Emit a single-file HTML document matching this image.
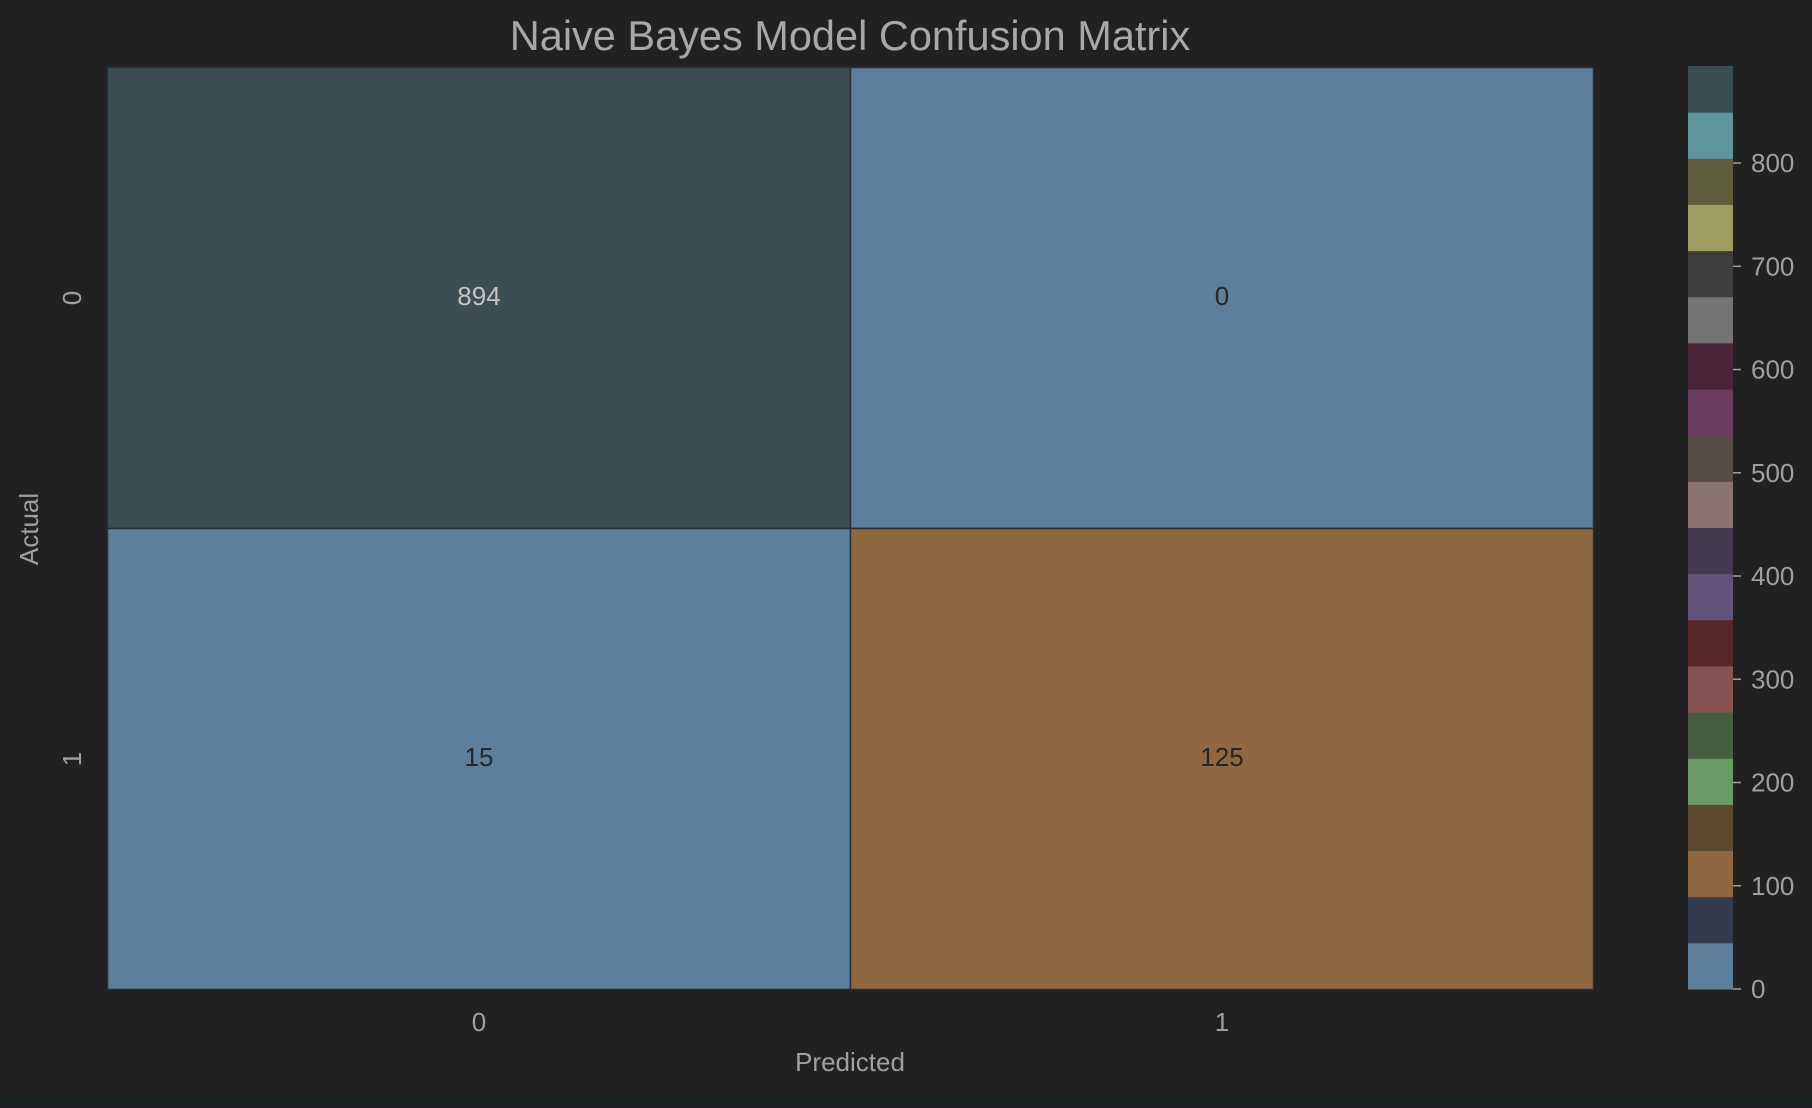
<!DOCTYPE html>
<html><head><meta charset="utf-8"><style>
html,body{margin:0;padding:0;background:#212121;}
svg{display:block;font-family:"Liberation Sans",Arial,sans-serif;}
</style></head><body>
<svg id="chart" width="1812" height="1108" viewBox="0 0 1812 1108">
<rect x="0" y="0" width="1812" height="1108" fill="#212121"/>
<rect x="0" y="1095" width="1812" height="13" fill="#1c2223"/>
<text x="850" y="50" font-size="41.5" fill="#a8a8a8" text-anchor="middle">Naive Bayes Model Confusion Matrix</text>
<g id="cells"></g>
<g id="xticks"></g>
<g id="yticks"></g>
<text x="850" y="1071" font-size="26" fill="#a0a0a0" text-anchor="middle">Predicted</text>
<text transform="translate(38,529) rotate(-90)" font-size="26" fill="#a0a0a0" text-anchor="middle">Actual</text>
<g id="cbar"></g>
</svg>
<script>
const rowLabels = ["0","1"];
const colLabels = ["0","1"];
const values = [[894,0],[15,125]];
const cbarTicks = [0,100,200,300,400,500,600,700,800];
const palette = ["#5e7f9c","#323c4e","#8f6842","#5e4a30","#6a9966","#465e40","#875252","#582828","#625378","#443a50","#8c7570","#584c48","#6a3d5e","#4a2437","#747474","#3e3e3e","#9e9e62","#5e5e3c","#5e949c","#3a4e54"];
const vmin = 0, vmax = 894;
const NS="http://www.w3.org/2000/svg";
const L=107.5,R=1593.5,T=67.5,B=989.5;
const cw=(R-L)/colLabels.length, ch=(B-T)/rowLabels.length;
function colorFor(v){let i=Math.floor((v-vmin)/(vmax-vmin)*palette.length);if(i>=palette.length)i=palette.length-1;if(i<0)i=0;return palette[i];}
function mk(tag,attrs,parent){const e=document.createElementNS(NS,tag);for(const k in attrs)e.setAttribute(k,attrs[k]);parent.appendChild(e);return e;}
const cells=document.getElementById('cells');
values.forEach((row,r)=>row.forEach((v,c)=>{
  const rc=mk('rect',{x:L+c*cw,y:T+r*ch,width:cw,height:ch,fill:colorFor(v),stroke:"#2a2f33","stroke-width":1.5},cells);
  
  
  const idx=Math.floor((v-vmin)/(vmax-vmin)*palette.length);
  const t=mk('text',{x:L+(c+0.5)*cw,y:T+(r+0.5)*ch+7,"font-size":26,"text-anchor":"middle",fill:idx>=palette.length-1?"#c4c4c4":"#262626"},cells);
  t.textContent=v;
  
  
}));
const xt=document.getElementById('xticks');
colLabels.forEach((lab,c)=>{
  const t=mk('text',{x:L+(c+0.5)*cw,y:1031,"font-size":26,"text-anchor":"middle",fill:"#a0a0a0"},xt);
  t.textContent=lab;
  
  
});
const yt=document.getElementById('yticks');
rowLabels.forEach((lab,r)=>{
  const y=T+(r+0.5)*ch;
  const t=mk('text',{transform:"translate(81,"+y+") rotate(-90)","font-size":26,"text-anchor":"middle",fill:"#a0a0a0"},yt);
  t.textContent=lab;
  
  
});
const cb=document.getElementById('cbar');
const CL=1688,CR=1733,CT=66,CB=989;
function cy(v){return CB-(v-vmin)/(vmax-vmin)*(CB-CT);}
palette.forEach((col,i)=>{
  const v0=vmin+i*(vmax-vmin)/palette.length, v1=vmin+(i+1)*(vmax-vmin)/palette.length;
  const rc=mk('rect',{x:CL,y:cy(v1),width:CR-CL,height:cy(v0)-cy(v1)+0.5,fill:col},cb);
  
  
});
cbarTicks.forEach(v=>{
  const y=cy(v);
  const ln=mk('line',{x1:CR,x2:CR+8,y1:y,y2:y,stroke:"#a0a0a0","stroke-width":1.5},cb);
  
  
  const t=mk('text',{x:CR+18,y:y+9,"font-size":26,fill:"#a0a0a0"},cb);
  t.textContent=v;
  
  
});
</script>
</body></html>
